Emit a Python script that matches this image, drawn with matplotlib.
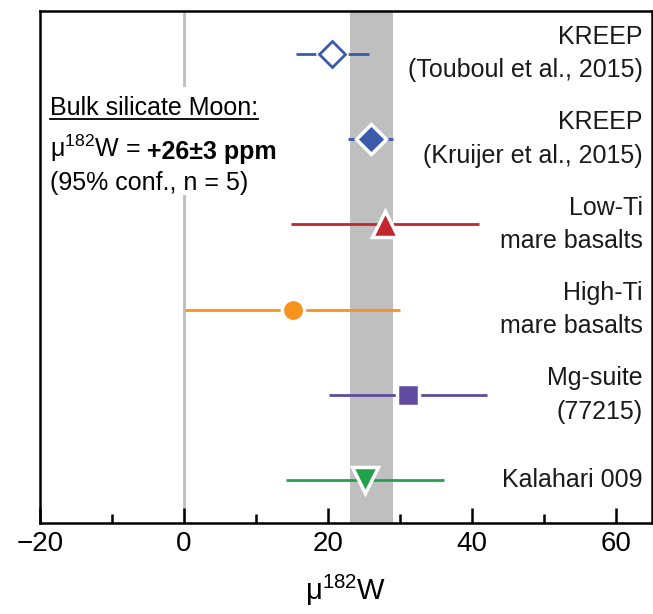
import matplotlib.pyplot as plt

plt.rcParams['font.family'] = ['Liberation Sans', 'DejaVu Sans']
plt.rcParams['mathtext.default'] = 'regular'

# mu182W of lunar samples (ppm) with 2-sigma uncertainties
labels = ["KREEP\n(Touboul et al., 2015)", "KREEP\n(Kruijer et al., 2015)",
          "Low-Ti\nmare basalts", "High-Ti\nmare basalts",
          "Mg-suite\n(77215)", "Kalahari 009"]
mu = [20.6, 25.9, 27.9, 15.1, 31.1, 25.1]
err = [5.1, 3.1, 13.0, 14.9, 11.0, 11.0]
colors = ["#3b5ba9", "#3b5ba9", "#c1272d", "#f7941d", "#5f4b9f", "#21a24a"]
markers = ["D", "D", "^", "o", "s", "v"]
msizes = [13, 15, 19, 16, 16.5, 19]

# bulk silicate Moon estimate
bsm_mean = 26
bsm_err = 3

ypos = list(range(len(labels), 0, -1))

fig = plt.figure(figsize=(6.53, 6.14), dpi=100)
ax = fig.add_axes([0.0613, 0.1482, 0.9372, 0.8339])

ax.axvspan(bsm_mean - bsm_err, bsm_mean + bsm_err, color="#bfbfbf", lw=0, zorder=0)
ax.axvline(0, color="#bdbdbd", lw=2, zorder=0.5)

# white box behind the summary text hides the zero line
ax.add_patch(plt.Rectangle((0.005, 0.641), 0.42, 0.21, transform=ax.transAxes,
                           facecolor="white", edgecolor="none", zorder=0.8))

for i in range(len(labels)):
    ax.errorbar(mu[i], ypos[i], xerr=err[i], fmt="none", ecolor=colors[i],
                elinewidth=2, capsize=0, zorder=2)
    if i == 0:
        # open diamond
        ax.plot(mu[i], ypos[i], marker="D", ms=16, color="white", zorder=3)
        ax.plot(mu[i], ypos[i], marker="D", ms=msizes[i], mfc="white",
                mec=colors[i], mew=2, zorder=4)
    else:
        ax.plot(mu[i], ypos[i], marker=markers[i], ms=msizes[i], mfc=colors[i],
                mec="white", mew=2.5, zorder=4)
    ax.text(0.985, (ypos[i] - 0.5) / 6, labels[i], transform=ax.transAxes,
            ha="right", va="center", fontsize=18, color="#1a1a1a",
            linespacing=1.5)

t1 = ax.text(0.016, 0.797, "Bulk silicate Moon:", transform=ax.transAxes,
             ha="left", va="baseline", fontsize=18, zorder=5)
t2 = ax.text(0.016, 0.715, "\u03bc$^{182}$W =", transform=ax.transAxes,
             ha="left", va="baseline", fontsize=18, zorder=5)
ax.annotate("+26\u00b13 ppm", xy=(1, 0), xycoords=t2, xytext=(4.5, 0),
            textcoords="offset points", ha="left", va="bottom",
            fontsize=18, fontweight="bold", zorder=5)
ax.text(0.016, 0.651, "(95% conf., n = 5)", transform=ax.transAxes,
        ha="left", va="baseline", fontsize=18, zorder=5)

# underline the heading
fig.canvas.draw()
bb = t1.get_window_extent().transformed(ax.transAxes.inverted())
ax.plot([bb.x0, bb.x1], [0.789, 0.789], color="black", lw=1.3,
        transform=ax.transAxes, zorder=5)

ax.set_xlim(-20, 65)
ax.set_ylim(0.5, 6.5)
ax.set_xticks([-20, 0, 20, 40, 60])
ax.set_xticks([-10, 10, 30, 50], minor=True)
ax.set_xticklabels(["\u221220", "0", "20", "40", "60"])
ax.set_yticks([])
ax.tick_params(axis="x", which="major", direction="in", length=11, width=1.8,
               labelsize=20, pad=6)
ax.tick_params(axis="x", which="minor", direction="in", length=6.5, width=1.8)
for s in ax.spines.values():
    s.set_linewidth(1.8)
ax.set_xlabel("\u03bc$^{182}$W", fontsize=21, labelpad=11)

plt.savefig("out.png", dpi=100)
